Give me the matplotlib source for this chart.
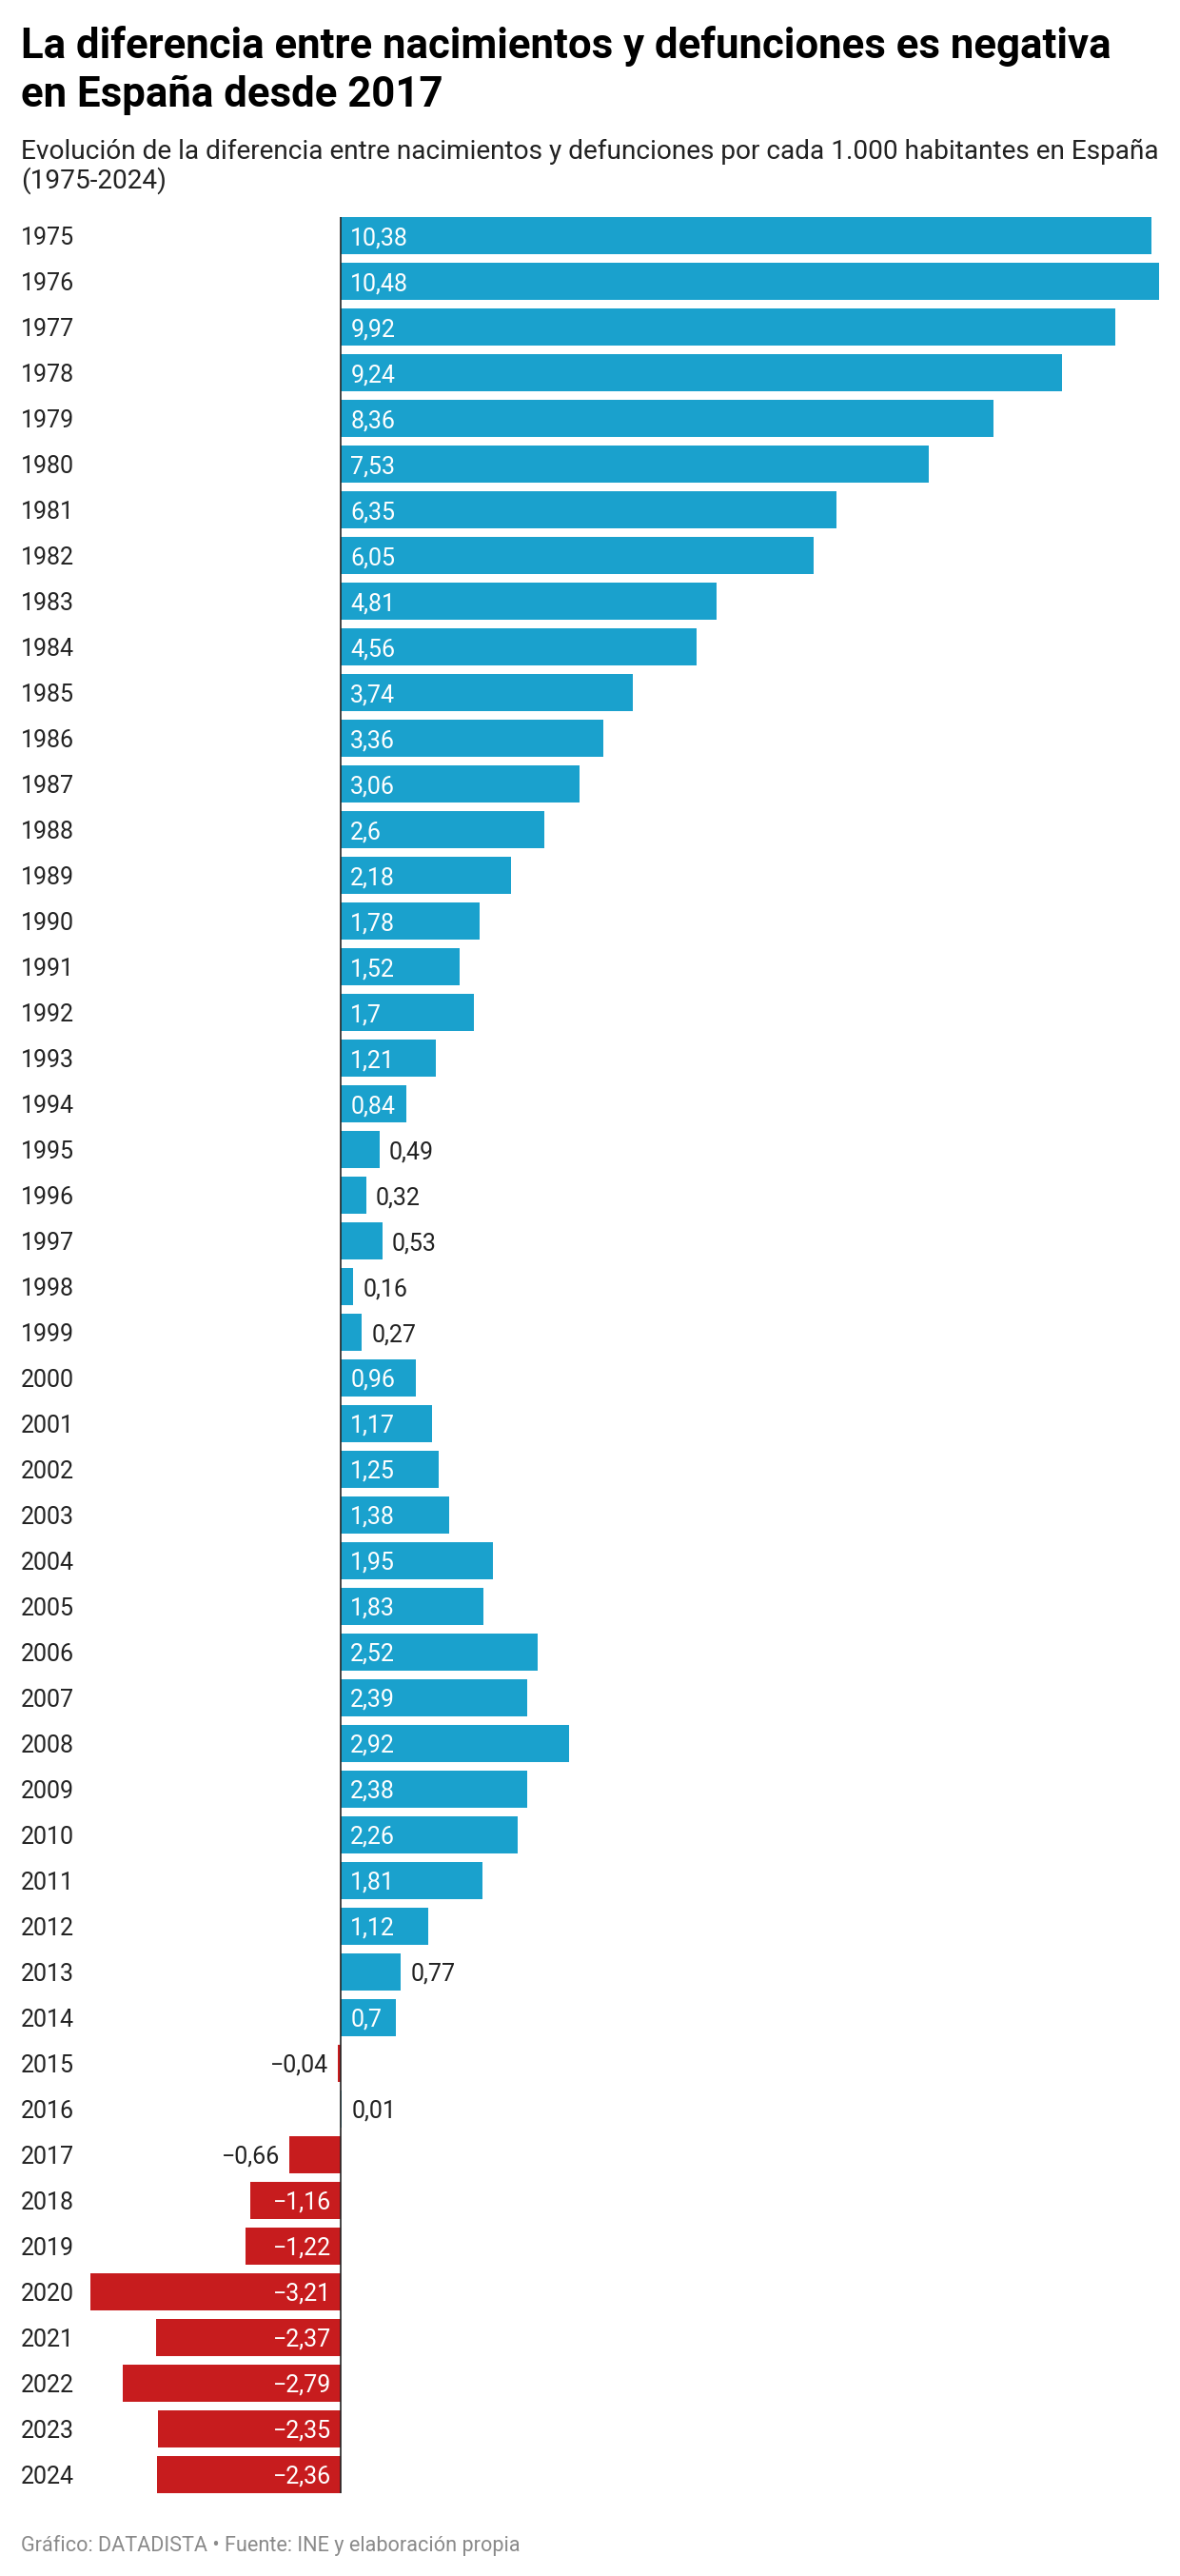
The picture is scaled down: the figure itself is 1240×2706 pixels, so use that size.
import matplotlib
matplotlib.use("Agg")
import matplotlib.pyplot as plt
from matplotlib.transforms import blended_transform_factory

# datos: diferencia nacimientos - defunciones por 1.000 habitantes
years = list(range(1975, 2025))
values = [10.38, 10.48, 9.92, 9.24, 8.36, 7.53, 6.35, 6.05, 4.81, 4.56,
          3.74, 3.36, 3.06, 2.6, 2.18, 1.78, 1.52, 1.7, 1.21, 0.84,
          0.49, 0.32, 0.53, 0.16, 0.27, 0.96, 1.17, 1.25, 1.38, 1.95,
          1.83, 2.52, 2.39, 2.92, 2.38, 2.26, 1.81, 1.12, 0.77, 0.7,
          -0.04, 0.01, -0.66, -1.16, -1.22, -3.21, -2.37, -2.79, -2.35, -2.36]

title_lines = ["La diferencia entre nacimientos y defunciones es negativa",
               "en España desde 2017"]
subtitle_lines = ["Evolución de la diferencia entre nacimientos y defunciones por cada 1.000 habitantes en España",
                  "(1975-2024)"]
footer = "Gráfico: DATADISTA • Fuente: INE y elaboración propia"

BLUE = "#1aa1cd"
RED = "#c71c1e"
DARK = "#222222"

plt.rcParams['font.family'] = ['Roboto', 'DejaVu Sans']

W, H = 1240, 2706
fig = plt.figure(figsize=(W / 100, H / 100), dpi=100, facecolor='white')


def fx(px):
    return px / W


def fy(px):
    return 1 - px / H


# zona de barras en pixeles
left_px, right_px = 95, 1218
top_px, bottom_px = 228, 2619
ax = fig.add_axes([fx(left_px), fy(bottom_px), fx(right_px - left_px), (bottom_px - top_px) / H])

bar_h = 0.82
ypos = list(range(len(years)))
colors = [BLUE if v >= 0 else RED for v in values]
ax.barh(ypos, values, height=bar_h, color=colors, linewidth=0)
ax.set_xlim(min(values), max(values))
ax.set_ylim(len(years) - 1 + bar_h / 2, -bar_h / 2)
ax.axvline(0, color=DARK, lw=1.2, zorder=3)
ax.axis('off')

# etiquetas de los años
trans = blended_transform_factory(fig.transFigure, ax.transData)
for y, yr in zip(ypos, years):
    ax.text(fx(22), y, str(yr), transform=trans, ha='left', va='center_baseline',
            fontsize=18, color=DARK)


def fmt(v):
    s = f"{abs(v):g}".replace('.', ',')
    return ("\u2212" + s) if v < 0 else s


# etiquetas de valores: dentro si caben, fuera si no
fig.canvas.draw()
renderer = fig.canvas.get_renderer()
px_per_unit = (right_px - left_px) / (max(values) - min(values))
pad = 10
for y, v in zip(ypos, values):
    t = ax.text(0, y, fmt(v), fontsize=18, va='center_baseline')
    tw = t.get_window_extent(renderer).width
    bw = abs(v) * px_per_unit
    off = pad / px_per_unit
    if tw + 2 * pad <= bw:
        t.set_color('white')
        if v >= 0:
            t.set_x(off)
            t.set_ha('left')
        else:
            t.set_x(-off)
            t.set_ha('right')
    else:
        t.set_color(DARK)
        if v >= 0:
            t.set_x(v + off)
            t.set_ha('left')
        else:
            t.set_x(v - off)
            t.set_ha('right')

# titulo, subtitulo y pie
fig.text(fx(22), fy(61), title_lines[0], fontsize=31.5, fontweight='bold', va='baseline', color='black')
fig.text(fx(22), fy(112), title_lines[1], fontsize=31.5, fontweight='bold', va='baseline', color='black')
fig.text(fx(22), fy(167), subtitle_lines[0], fontsize=20.2, va='baseline', color=DARK)
fig.text(fx(22), fy(198), subtitle_lines[1], fontsize=20.2, va='baseline', color=DARK)
fig.text(fx(22), fy(2680), footer, fontsize=15.6, va='baseline', color='#8a8a8a')

fig.savefig('out.png', dpi=100, facecolor='white')
